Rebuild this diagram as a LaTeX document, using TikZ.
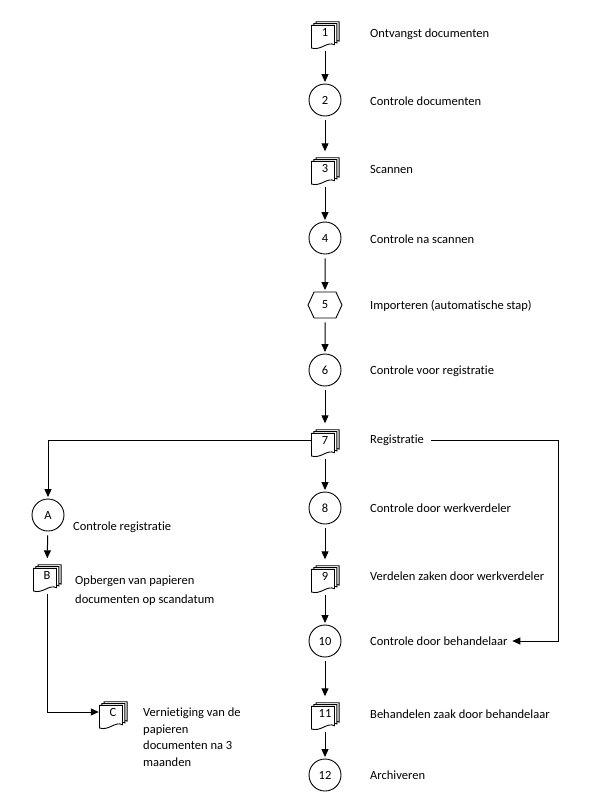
\documentclass[tikz,border=0pt]{standalone}
\usepackage{fontspec}
\setmainfont{Carlito}[Ligatures=NoCommon]
\usetikzlibrary{arrows.meta,shapes.symbols}
\tikzset{
	docbox/.style={rectangle,minimum width=28pt,minimum height=30pt,inner sep=0pt},
	stackline/.style={draw,fill=white,line width=0.9pt},
	stepcircle/.style={circle,draw,fill=white,line width=0.9pt,minimum size=32pt,inner sep=0pt},
	importhex/.style={signal,signal to=west and east,signal pointer angle=130,draw,line width=0.9pt,minimum width=34pt,minimum height=26pt,inner sep=0pt},
	steptext/.style={anchor=west,inner sep=3pt,align=left},
	flow/.style={line width=1pt,-{Triangle[length=8pt,width=7pt]},shorten <=4pt,shorten >=1.5pt}
}
\def\docstack(#1)(#2)#3{%
	\foreach \off in {4.6,2.3,0} {\draw[stackline,shift={(#2)},shift={({\off},{-0.78*\off})}] (-13.5,-6.7) -- (9.5,-6.7) -- (9.5,12.7) .. controls (2,9) and (-4,19) .. (-13.5,16) -- cycle;}
	\node[docbox] (#1) at (#2) {#3};
}

\begin{document}
\begin{tikzpicture}[x=1pt,y=-1pt,font=\fontsize{12.5}{16.5}\selectfont]
		%%%%% START %%%%%
		\useasboundingbox (0,0) rectangle (610,812);
		
		% main column
		\docstack(d1)(325,32){1}
		\node[stepcircle] (c2) at (325,100) {2};
		\docstack(d3)(325,168){3}
		\node[stepcircle] (c4) at (325,238) {4};
		\node[importhex] (h5) at (325,305) {5};
		\node[stepcircle] (c6) at (325,370) {6};
		\docstack(d7)(325,440){7}
		\node[stepcircle] (c8) at (325,508) {8};
		\docstack(d9)(325,576){9}
		\node[stepcircle] (c10) at (325,641) {10};
		\docstack(d11)(325,713){11}
		\node[stepcircle] (c12) at (325,775) {12};
		
		\node[steptext] (t1) at (367,34) {Ontvangst documenten};
		\node[steptext] (t2) at (367,101) {Controle documenten};
		\node[steptext] (t3) at (367,169) {Scannen};
		\node[steptext] (t4) at (367,239) {Controle na scannen};
		\node[steptext] (t5) at (367,306) {Importeren (automatische stap)};
		\node[steptext] (t6) at (367,371) {Controle voor registratie};
		\node[steptext] (t7) at (367,440) {Registratie};
		\node[steptext] (t8) at (367,508) {Controle door werkverdeler};
		\node[steptext] (t9) at (367,576) {Verdelen zaken door werkverdeler};
		\node[steptext] (t10) at (367,641) {Controle door behandelaar};
		\node[steptext] (t11) at (367,714) {Behandelen zaak door behandelaar};
		\node[steptext] (t12) at (367,775) {Archiveren};
		
		\draw[flow] (d1) -- (c2);
		\draw[flow] (c2) -- (d3);
		\draw[flow] (d3) -- (c4);
		\draw[flow] (c4) -- (h5);
		\draw[flow] (h5) -- (c6);
		\draw[flow] (c6) -- (d7);
		\draw[flow] (d7) -- (c8);
		\draw[flow] (c8) -- (d9);
		\draw[flow] (d9) -- (c10);
		\draw[flow] (c10) -- (d11);
		\draw[flow] (d11) -- (c12);
		
		% left branch
		\node[stepcircle] (cA) at (48,515) {A};
		\docstack(dB)(47,575){B}
		\docstack(dC)(113,712){C}
		
		\node[steptext] (tA) at (70,527) {Controle registratie};
		\node[steptext] (tB) at (72,591) {Opbergen van papieren\\[2.5pt]documenten op scandatum};
		\node[steptext] (tC) at (140,737) {Vernietiging van de\\papieren\\documenten na 3\\maanden};
		
		\draw[flow,shorten <=0pt] (d7.west) -| (cA);
		\draw[flow] (cA) -- (dB);
		\draw[flow,shorten >=0pt] (dB.south) |- (dC.west);
		
		% right branch
		\coordinate (rturn) at (558,440);
		\draw[flow] (t7.east) -- (rturn) |- (t10.east);
		
		%%%%% END %%%%%
	\end{tikzpicture}
\end{document}
